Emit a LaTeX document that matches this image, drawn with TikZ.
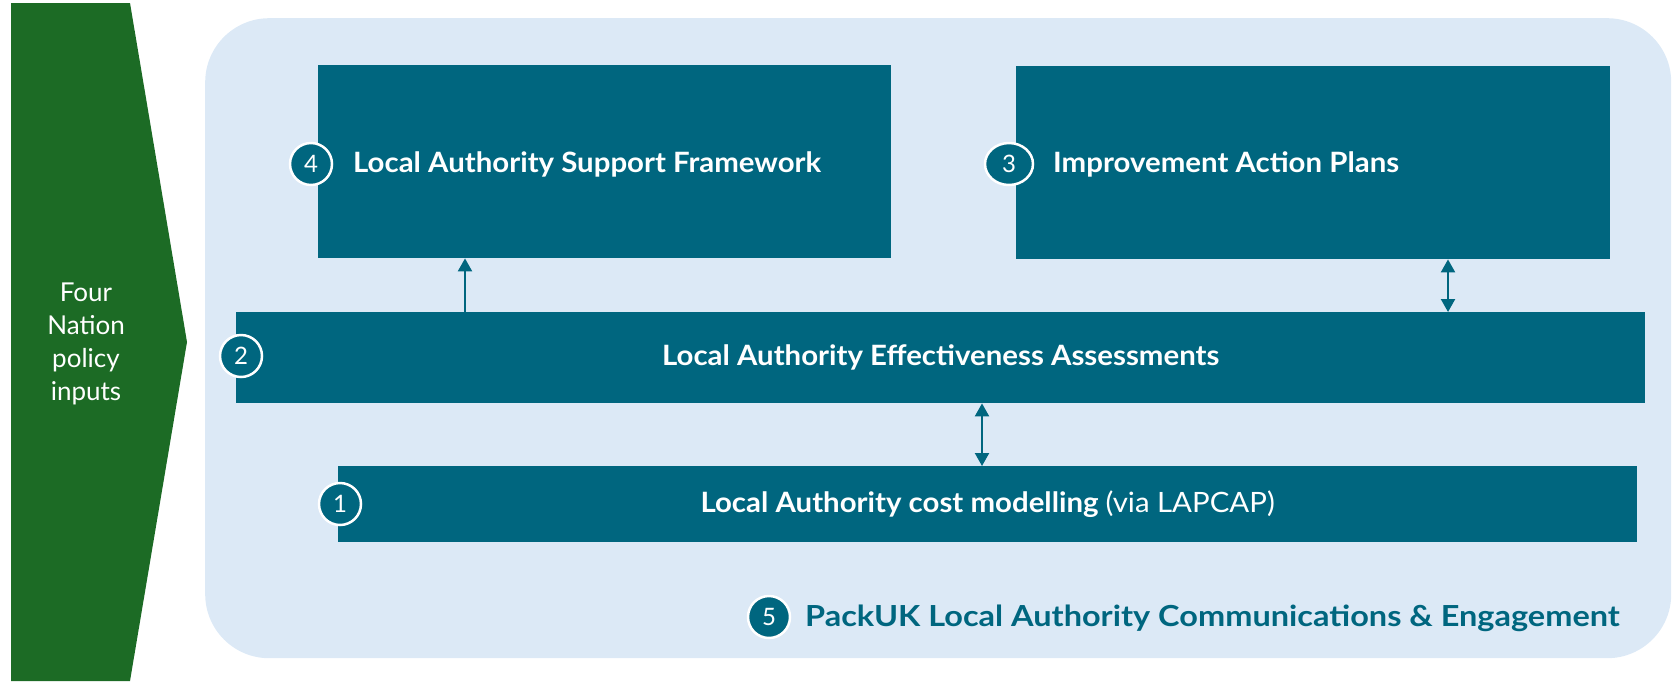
\documentclass[tikz,border=0pt]{standalone}
\usepackage{fontspec}
\setmainfont{Lato}
\newfontfamily\boxfont[FakeStretch=1.05]{Lato}
\newfontfamily\engfont[FakeStretch=1.12]{Lato}
\usetikzlibrary{arrows.meta,shapes.geometric}
\definecolor{teal}{HTML}{00667F}
\definecolor{bgblue}{HTML}{DCE9F6}
\definecolor{ngreen}{HTML}{1C6B25}
\tikzset{
  box/.style={fill=teal,draw=none,inner sep=0pt},
  num/.style={circle,fill=teal,draw=white,line width=2.5pt,minimum size=42pt,inner sep=0pt,text=white,font=\fontsize{24}{26}\selectfont},
  btext/.style={text=white,font=\boxfont\fontsize{28}{30}\selectfont\bfseries,inner sep=0pt},
  arr/.style={draw=teal,line width=2.2pt,-{Triangle[width=14pt,length=13pt]}},
  darr/.style={draw=teal,line width=2.2pt,{Triangle[width=14pt,length=13pt]}-{Triangle[width=14pt,length=13pt]}},
}
\begin{document}
\begin{tikzpicture}[x=1pt,y=-1pt]
\useasboundingbox (0,0) rectangle (1677,681);
% green arrow shape
\fill[ngreen] (11,3) -- (130,3) -- (187,342) -- (130,681) -- (11,681) -- cycle;
\node[align=center,text=white,font=\fontsize{26}{33}\selectfont,inner sep=0pt] (four) at (86,344) {Four\\Nation\\policy\\inputs};
% background
\node[fill=bgblue,rounded corners=64pt,minimum width=1466pt,minimum height=640pt,inner sep=0pt,anchor=north west] (bg) at (205,18) {};
% boxes
\node[box,minimum width=573pt,minimum height=193pt,anchor=north west] (b4) at (318,65) {};
\node[box,minimum width=594pt,minimum height=193pt,anchor=north west] (b3) at (1016,66) {};
\node[box,minimum width=1409pt,minimum height=91pt,anchor=north west] (b2) at (236,312) {};
\node[box,minimum width=1299pt,minimum height=76pt,anchor=north west] (b1) at (338,466) {};
% texts
\node[btext,anchor=west] (t4) at (353,164) {Local Authority Support Framework};
\node[btext,anchor=west] (t3) at (1053,164) {Improvement Action Plans};
\node[btext] (t2) at (b2.center) {Local Authority Effectiveness Assessments};
\node[btext] (t1) at (b1.center) {Local Authority cost modelling \mdseries(via LAPCAP)};
% numbers
\node[num] (c4) at (311,164) {4};
\node[num,ellipse,minimum width=48pt,minimum height=42pt] (c3) at (1009,164) {3};
\node[num] (c2) at (241,356) {2};
\node[num] (c1) at (340,504) {1};
\node[num,minimum size=42pt] (c5) at (769,617) {5};
\node[anchor=west,text=teal,font=\engfont\fontsize{29}{31}\selectfont\bfseries,inner sep=0pt] (t5) at (805,618) {PackUK Local Authority Communications \& Engagement};
% connectors
\coordinate (xa) at (465,0);
\coordinate (xb) at (1448,0);
\coordinate (xc) at (982,0);
\draw[arr] (b2.north -| xa) -- (b4.south -| xa);
\draw[darr] (b3.south -| xb) -- (b2.north -| xb);
\draw[darr] (b2.south -| xc) -- (b1.north -| xc);
\end{tikzpicture}
\end{document}
